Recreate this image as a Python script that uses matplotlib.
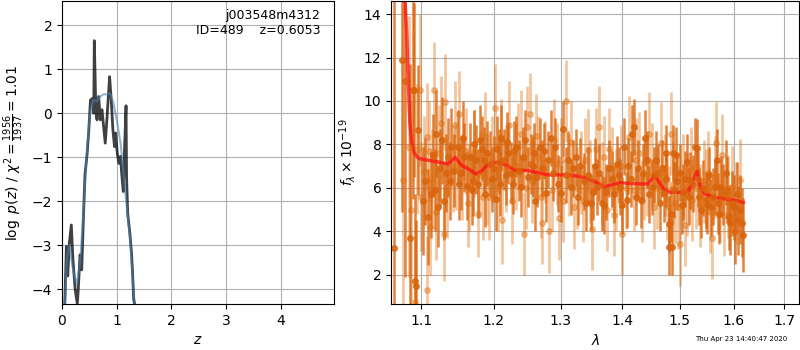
import numpy as np
import matplotlib.pyplot as plt
from matplotlib.ticker import NullLocator

# p(z) curves
z_pz = [0.05, 0.08, 0.105, 0.13, 0.17, 0.2, 0.24, 0.28, 0.30, 0.33, 0.36, 0.39, 0.42, 0.46, 0.49,
        0.52, 0.56, 0.58, 0.59, 0.62, 0.64, 0.67, 0.70, 0.73, 0.76, 0.79, 0.82, 0.85, 0.87, 0.90,
        0.93, 0.96, 0.98, 1.01, 1.04, 1.07, 1.09, 1.12, 1.14, 1.17, 1.18, 1.20, 1.24, 1.27, 1.29,
        1.31, 1.34]
logp = [-4.4, -3.03, -3.7, -3.0, -2.54, -3.33, -4.0, -4.34, -3.94, -3.22, -3.56, -2.42, -1.4, -0.91, -0.38,
        0.3, 0.34, 0.0, 1.65, 0.0, -0.15, 0.38, -0.15, 0.08, -0.3, -0.68, -0.15, 0.45, 0.83, 0.3,
        -0.38, -0.76, -0.45, -0.91, -1.14, -0.98, -1.36, -1.78, -0.91, 0.17, -1.44, -2.27, -2.73, -3.18, -3.64,
        -4.24, -4.4]
z_smooth = [0.05, 0.09, 0.13, 0.2, 0.27, 0.33, 0.39, 0.45, 0.51, 0.57, 0.635, 0.70, 0.76, 0.82,
            0.88, 0.94, 1.0, 1.07, 1.13, 1.19, 1.25, 1.31, 1.34]
logp_smooth = [-4.4, -3.3, -3.0, -3.55, -3.9, -3.4, -2.3, -0.95, 0.0, 0.3, 0.27, 0.38, 0.43, 0.43,
               0.45, 0.23, -0.15, -0.68, -1.44, -2.2, -2.95, -4.1, -4.4]

# spectrum, brighter points
wave_a = [1.0644, 1.0751, 1.0791, 1.0853, 1.0889, 1.0907, 1.0916, 1.0933, 1.0960, 1.1023,
          1.1088, 1.1124, 1.1198, 1.1226, 1.1272, 1.1336, 1.1355, 1.1401, 1.1493, 1.1539,
          1.1585, 1.1668, 1.1700, 1.1747, 1.1806, 1.1853, 1.1899, 1.1977, 1.2050, 1.2090,
          1.2150, 1.2190, 1.2250, 1.2300, 1.2400, 1.2450, 1.2540, 1.2575, 1.2610, 1.2690,
          1.2750, 1.2775, 1.2850, 1.2890, 1.3000, 1.3043, 1.3119, 1.3162, 1.3243, 1.3281,
          1.3368, 1.3405, 1.3476, 1.3541, 1.3584, 1.3659, 1.3735, 1.3822, 1.3908, 1.3962,
          1.4029, 1.4075, 1.4145, 1.4191, 1.4231, 1.4318, 1.4422, 1.4503, 1.4578, 1.4618,
          1.4711, 1.4751, 1.4798, 1.4809, 1.4850, 1.4855, 1.4884, 1.4925, 1.5012, 1.5062,
          1.5136, 1.5185, 1.5272, 1.5309, 1.5352, 1.5395, 1.5475, 1.5568, 1.5642, 1.5679,
          1.5722, 1.5765, 1.5858, 1.5907, 1.5938, 1.6000, 1.6031, 1.6093, 1.6154, 1.6185]
flux_a = [3.22, 11.9, 10.9, 3.7, 10.5, 10.5, 1.7, 1.5, 8.66, 5.4,
          4.65, 5.7, 8.5, 5.1, 8.2, 6.7, 7.4, 7.9, 7.9, 6.7,
          7.4, 7.4, 6.3, 7.3, 8.2, 7.3, 7.6, 6.4, 7.8, 6.2,
          7.3, 8.1, 6.7, 7.7, 6.05, 8.2, 7.1, 7.0, 5.4, 7.9,
          7.7, 5.75, 8.3, 6.7, 5.75, 8.7, 7.3, 6.05, 7.4, 5.6,
          6.3, 5.3, 5.3, 7.0, 6.05, 5.3, 5.8, 6.4, 7.1, 6.05,
          7.9, 5.45, 6.4, 8.8, 5.6, 5.45, 7.3, 6.05, 7.3, 6.7,
          5.75, 7.6, 3.3, 4.35, 4.8, 3.3, 7.6, 7.5, 6.7, 5.8,
          7.2, 6.35, 7.9, 7.85, 5.6, 5.0, 5.45, 5.1, 6.05, 7.3,
          4.8, 6.05, 6.7, 4.65, 4.4, 5.1, 4.0, 4.5, 4.4, 3.85]
err_a = [12.0, 7.0, 9.0, 8.0, 5.0, 4.0, 4.0, 3.0, 3.0, 2.5,
         2.2, 2.0, 2.0, 1.8, 2.0, 1.8, 1.8, 1.8, 1.7, 1.7,
         1.6, 1.6, 1.6, 1.6, 1.6, 1.5, 1.5, 1.5, 1.5, 1.5,
         1.4, 1.4, 1.4, 1.4, 1.4, 1.4, 1.4, 1.4, 1.4, 1.3,
         1.3, 1.3, 1.3, 1.3, 1.3, 1.3, 1.3, 1.3, 1.3, 1.3,
         1.3, 1.3, 1.3, 1.3, 1.3, 1.3, 1.3, 1.3, 1.3, 1.3,
         1.3, 1.3, 1.3, 1.3, 1.3, 1.3, 1.3, 1.3, 1.3, 1.3,
         1.3, 1.3, 1.3, 1.3, 1.3, 1.3, 1.3, 1.3, 1.3, 1.3,
         1.3, 1.3, 1.3, 1.3, 1.3, 1.3, 1.3, 1.3, 1.3, 1.4,
         1.4, 1.4, 1.5, 1.5, 1.5, 1.5, 1.5, 1.6, 1.6, 1.7]

# more bright points, filling the crowded band
wave_a2 = [1.1045, 1.1150, 1.1180, 1.1250, 1.1300, 1.1380, 1.1440, 1.1515, 1.1560, 1.1620,
           1.1690, 1.1725, 1.1780, 1.1830, 1.1875, 1.1950, 1.2000, 1.2030, 1.2070, 1.2110,
           1.2170, 1.2210, 1.2275, 1.2330, 1.2370, 1.2425, 1.2500, 1.2600, 1.2640, 1.2720,
           1.2810, 1.2920, 1.2960, 1.3080, 1.3200, 1.3300, 1.3440, 1.3520, 1.3620, 1.3700,
           1.3780, 1.3860, 1.3940, 1.4000, 1.4100, 1.4170, 1.4260, 1.4350, 1.4380, 1.4460,
           1.4540, 1.4650, 1.4690, 1.4760, 1.4900, 1.4950, 1.5040, 1.5100, 1.5160, 1.5240,
           1.5330, 1.5420, 1.5500, 1.5530, 1.5610, 1.5700, 1.5800, 1.5880, 1.5970, 1.6060,
           1.6120]
flux_a2 = [6.3, 7.5, 5.9, 6.9, 5.4, 6.3, 6.8, 6.2, 8.3, 6.1,
           5.9, 8.0, 6.2, 7.8, 5.7, 7.1, 6.9, 5.5, 7.2, 8.3,
           6.6, 7.6, 6.2, 7.9, 6.8, 7.4, 6.5, 7.6, 6.5, 6.9,
           7.3, 7.9, 6.2, 6.6, 6.9, 7.0, 6.6, 5.8, 6.7, 5.2,
           6.9, 5.7, 6.6, 5.2, 7.0, 8.5, 6.9, 6.7, 8.3, 5.7,
           6.6, 5.3, 6.9, 6.4, 5.9, 6.3, 5.2, 6.4, 5.6, 6.2,
           6.4, 6.0, 5.2, 6.6, 5.6, 5.3, 5.7, 5.9, 5.3, 5.7,
           5.0]
err_a2 = [2.0, 1.9, 1.9, 1.8, 1.8, 1.8, 1.7, 1.7, 1.7, 1.6,
          1.6, 1.6, 1.6, 1.5, 1.5, 1.5, 1.5, 1.5, 1.5, 1.5,
          1.4, 1.4, 1.4, 1.4, 1.4, 1.4, 1.4, 1.4, 1.4, 1.3,
          1.3, 1.3, 1.3, 1.3, 1.3, 1.3, 1.3, 1.3, 1.3, 1.3,
          1.3, 1.3, 1.3, 1.3, 1.3, 1.3, 1.3, 1.3, 1.3, 1.3,
          1.3, 1.3, 1.3, 1.3, 1.3, 1.3, 1.3, 1.3, 1.3, 1.3,
          1.3, 1.3, 1.3, 1.3, 1.3, 1.4, 1.4, 1.5, 1.5, 1.5,
          1.6]

# spectrum, fainter points
wave_b = [1.0764, 1.0836, 1.0920, 1.0978, 1.1000, 1.1069, 1.1078, 1.1115, 1.1171, 1.1263,
          1.1309, 1.1315, 1.1470, 1.1512, 1.1631, 1.1770, 1.1839, 1.1931, 1.2010, 1.2125,
          1.2225, 1.2350, 1.2440, 1.2490, 1.2530, 1.2650, 1.2720, 1.2825, 1.2940, 1.2975,
          1.3081, 1.3205, 1.3324, 1.3443, 1.3497, 1.3622, 1.3703, 1.3784, 1.3865, 1.4000,
          1.4116, 1.4289, 1.4376, 1.4462, 1.4549, 1.4665, 1.4809, 1.4838, 1.4965, 1.5000,
          1.5086, 1.5228, 1.5444, 1.5519, 1.5599, 1.5673, 1.5815, 1.5969, 1.6123]
flux_b = [6.36, 7.9, 0.77, 10.5, 5.6, 1.3, 8.35, 4.2, 10.5, 8.97,
          3.9, 9.96, 7.0, 9.4, 5.3, 4.8, 5.6, 5.6, 9.7, 4.5,
          8.9, 7.9, 3.9, 8.8, 9.4, 7.4, 4.4, 4.0, 7.1, 4.6,
          10.0, 5.1, 6.7, 7.75, 4.1, 8.8, 7.4, 7.8, 4.75, 3.9,
          8.35, 7.6, 6.4, 8.5, 5.1, 8.05, 5.1, 8.5, 5.1, 3.4,
          4.3, 5.45, 6.3, 6.7, 3.7, 8.05, 4.75, 6.05, 6.35]
err_b = [8.0, 6.0, 3.0, 3.5, 2.5, 2.5, 2.5, 2.2, 2.2, 2.2,
         2.2, 2.2, 2.0, 2.0, 2.0, 2.0, 2.0, 2.0, 2.0, 2.0,
         2.0, 2.0, 1.9, 1.9, 1.9, 1.9, 1.9, 1.9, 1.9, 1.9,
         1.9, 1.9, 1.9, 1.9, 1.9, 1.9, 1.9, 1.9, 1.9, 1.9,
         1.9, 1.9, 1.9, 1.9, 1.9, 1.9, 1.9, 1.9, 1.9, 1.9,
         1.9, 1.9, 1.9, 1.9, 1.9, 1.9, 1.9, 1.9, 1.9]

wave_b2 = [1.0870, 1.0950, 1.1035, 1.1100, 1.1140, 1.1200, 1.1230, 1.1350, 1.1420, 1.1450,
           1.1550, 1.1600, 1.1650, 1.1720, 1.1800, 1.1870, 1.1900, 1.1970, 1.2060, 1.2100,
           1.2180, 1.2270, 1.2320, 1.2400, 1.2470, 1.2560, 1.2620, 1.2700, 1.2760, 1.2860,
           1.2900, 1.3000, 1.3040, 1.3130, 1.3170, 1.3260, 1.3350, 1.3390, 1.3470, 1.3560,
           1.3660, 1.3740, 1.3830, 1.3900, 1.3980, 1.4060, 1.4200, 1.4240, 1.4330, 1.4420,
           1.4500, 1.4600, 1.4730, 1.4780, 1.4880, 1.4920, 1.5050, 1.5130, 1.5200, 1.5290,
           1.5370, 1.5480, 1.5560, 1.5640, 1.5740, 1.5780, 1.5900, 1.6050]
flux_b2 = [5.0, 7.8, 6.8, 7.7, 6.4, 4.9, 7.6, 5.8, 6.9, 8.9,
           6.5, 7.7, 6.0, 7.6, 6.6, 8.4, 6.3, 7.3, 6.0, 8.1,
           6.9, 5.4, 7.0, 8.5, 6.0, 6.3, 8.4, 5.6, 7.2, 5.9,
           8.2, 7.3, 5.4, 6.6, 8.1, 6.0, 5.4, 7.3, 6.3, 7.8,
           6.2, 5.0, 6.9, 5.9, 7.0, 6.0, 5.9, 7.3, 5.4, 6.6,
           7.1, 6.0, 6.6, 5.5, 6.2, 5.3, 6.6, 5.7, 6.9, 6.0,
           5.2, 5.9, 4.9, 6.5, 5.4, 7.5, 5.6, 5.3]
err_b2 = [5.0, 3.0, 2.5, 2.3, 2.3, 2.2, 2.2, 2.1, 2.0, 2.0,
          2.0, 2.0, 2.0, 2.0, 2.0, 2.0, 2.0, 2.0, 2.0, 2.0,
          2.0, 2.0, 2.0, 2.0, 1.9, 1.9, 1.9, 1.9, 1.9, 1.9,
          1.9, 1.9, 1.9, 1.9, 1.9, 1.9, 1.9, 1.9, 1.9, 1.9,
          1.9, 1.9, 1.9, 1.9, 1.9, 1.9, 1.9, 1.9, 1.9, 1.9,
          1.9, 1.9, 1.9, 1.9, 1.9, 1.9, 1.9, 1.9, 1.9, 1.9,
          1.9, 1.9, 1.9, 1.9, 1.9, 1.9, 1.9, 1.9]

# best-fit model
wave_m = [1.0787, 1.081, 1.083, 1.085, 1.0876, 1.091, 1.0964, 1.108, 1.126, 1.1355,
          1.1456, 1.154, 1.165, 1.1747, 1.1816, 1.1908, 1.2, 1.21, 1.22, 1.23,
          1.25, 1.27, 1.28, 1.311, 1.332, 1.354, 1.370, 1.381, 1.397, 1.4145,
          1.4433, 1.4549, 1.4607, 1.4722, 1.4838, 1.4954, 1.5136, 1.5228, 1.5309, 1.537,
          1.5444, 1.563, 1.5815, 1.6, 1.6185]
flux_m = [14.6, 13.1, 10.8, 9.0, 8.05, 7.6, 7.36, 7.28, 7.17, 7.1,
          7.4, 7.05, 6.85, 6.64, 6.75, 7.05, 7.17, 7.16, 7.0, 6.82,
          6.8, 6.67, 6.6, 6.6, 6.52, 6.3, 6.05, 6.13, 6.24, 6.2,
          6.18, 6.56, 6.37, 5.9, 5.8, 5.8, 5.78, 6.2, 6.75, 6.05,
          5.75, 5.56, 5.5, 5.44, 5.33]

lam_ticks = [1.1, 1.2, 1.3, 1.4, 1.5, 1.6, 1.7]

fig = plt.figure(figsize=(8, 3.5), dpi=100)

ax = fig.add_axes([0.0775, 0.131, 0.34, 0.866])
ax.plot(z_pz, logp, color='k', alpha=0.75, lw=2)
ax.plot(z_smooth, logp_smooth, color='steelblue', alpha=0.6, lw=1.5)
ax.set_xlim(0, 4.97)
ax.set_ylim(-4.34, 2.55)
ax.set_xticks([0, 1, 2, 3, 4])
ax.set_yticks([-4, -3, -2, -1, 0, 1, 2])
ax.grid()
ax.set_xlabel(r'$z$')
ax.set_ylabel(r'$\log\ p(z)$' + ' / ' + r'$\chi^2=\frac{1956}{1937}=1.01$')
ax.text(0.95, 0.975, 'j003548m4312\nID=489    z=0.6053', transform=ax.transAxes,
        ha='right', va='top', fontsize=9)

ax = fig.add_axes([0.489, 0.131, 0.51, 0.866])
ax.errorbar(wave_b + wave_b2, flux_b + flux_b2, yerr=err_b + err_b2, color='#e07010',
            alpha=0.4, marker='o', ms=4, linestyle='None', elinewidth=2)
ax.errorbar(wave_a + wave_a2, flux_a + flux_a2, yerr=err_a + err_a2, color='#d9640c',
            alpha=0.8, marker='o', ms=4, linestyle='None', elinewidth=1.8)
ax.plot(wave_m, flux_m, color='#ff1010', alpha=0.75, lw=2.5)
ax.set_xscale('log')
ax.set_xlim(1.061, 1.731)
ax.set_ylim(0.65, 14.6)
ax.set_xticks(lam_ticks)
ax.set_xticklabels(['{:.1f}'.format(t) for t in lam_ticks])
ax.xaxis.set_minor_locator(NullLocator())
ax.grid()
ax.set_xlabel(r'$\lambda$')
ax.set_ylabel(r'$f_\lambda\times10^{-19}$')

fig.text(0.984, 0.031, 'Thu Apr 23 14:40:47 2020', ha='right', va='center', fontsize=5)

fig.savefig('out.png')
